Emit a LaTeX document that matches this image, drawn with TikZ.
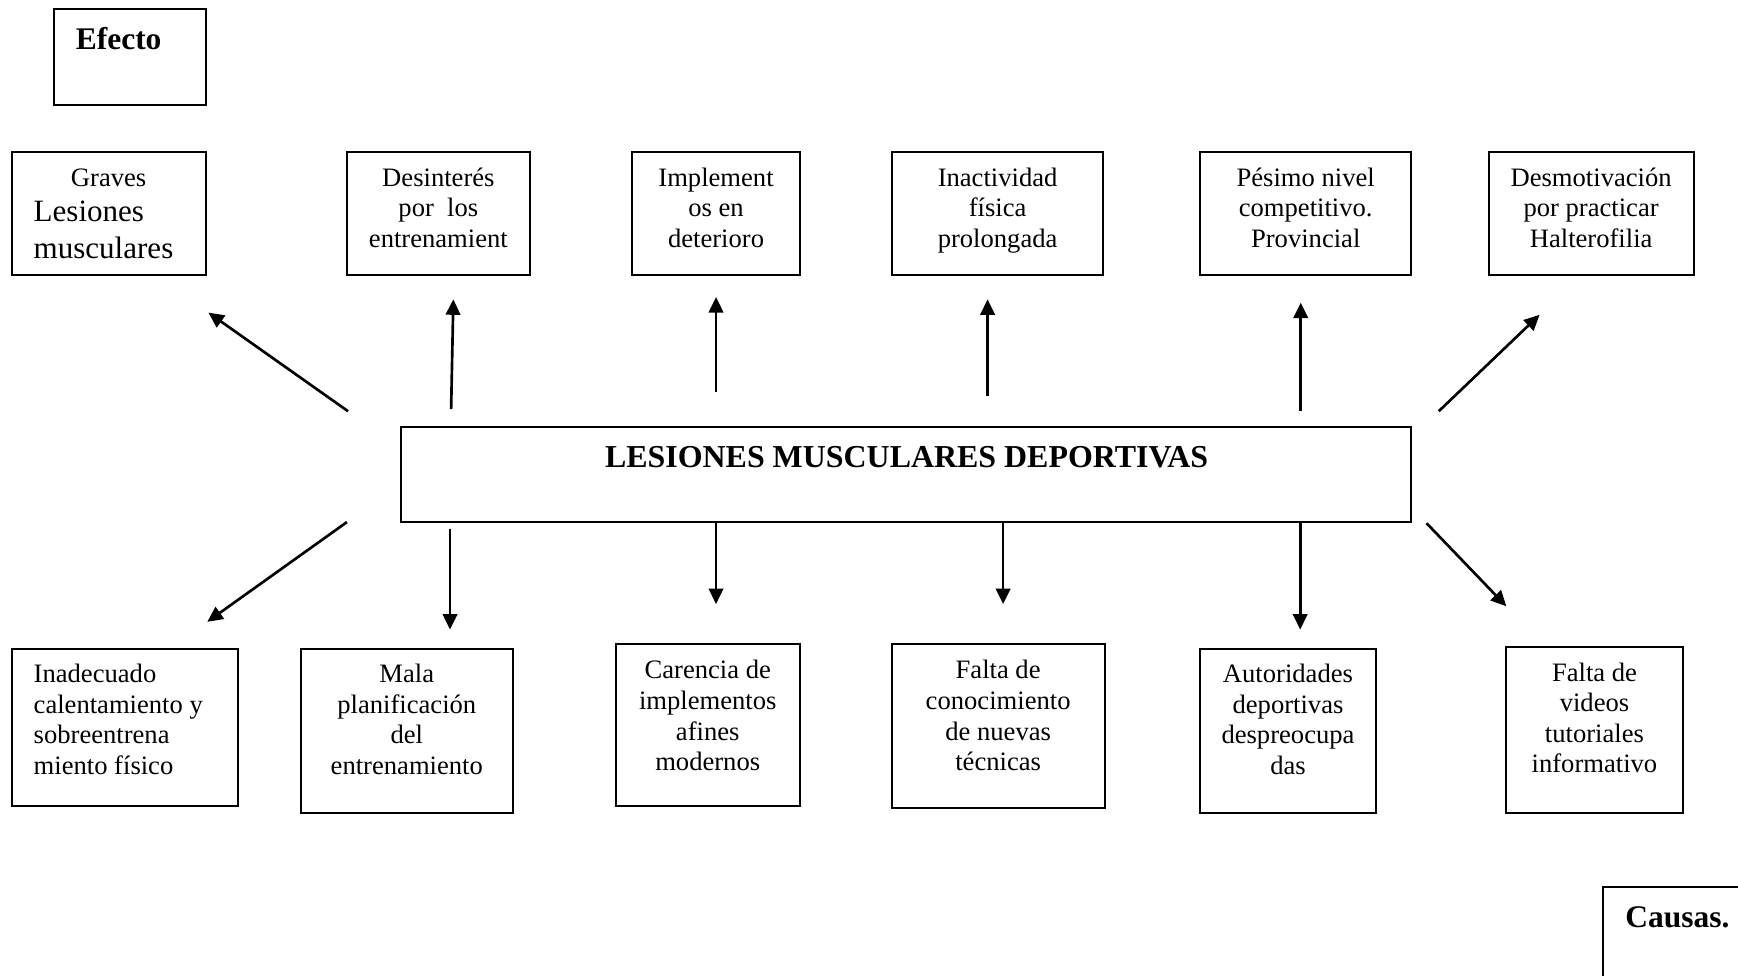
\documentclass[tikz,border=0pt]{standalone}
\usepackage{fontspec}
\setmainfont{Liberation Serif}
\usetikzlibrary{fit,arrows.meta}
\begin{document}
\begin{tikzpicture}[x=0.5pt,y=-0.5pt,
  box/.style={draw,line width=0.9pt,inner sep=0pt},
  txt/.style={inner sep=0pt,font=\fontsize{12}{13.8}\selectfont,align=center,anchor=base},
  txtl/.style={inner sep=0pt,font=\fontsize{12}{13.8}\selectfont,align=left,anchor=base west},
  big/.style={inner sep=0pt,font=\fontsize{14}{16.5}\selectfont,align=left,anchor=base west},
  ttl/.style={inner sep=0pt,font=\fontsize{14.2}{16.5}\selectfont\bfseries,anchor=base west},
  arr/.style={line width=1.2pt,-{Triangle[length=7pt,width=6.5pt]}}]
\useasboundingbox (0,0) rectangle (1568,880.5);

% labels
\node[box,fit={(49,8) (186,95)}] (efb) {};
\node[ttl] (eft) at (68,45) {Efecto};
\node[box,fit={(1446,800) (1640,940)}] (cab) {};
\node[ttl] (cat) at (1466,837) {Causas.};

% central
\node[box,fit={(362,385) (1273,471)}] (c) {};
\node[inner sep=0pt,font=\fontsize{14.4}{16.5}\selectfont\bfseries,anchor=base] (ct) at (818,422) {LESIONES MUSCULARES DEPORTIVAS};

% top row (base anchor = baseline of last line)
\node[box,fit={(11,137) (186,248)}] (t1) {};
\node[txt] (t1a) at (98,168) {Graves};
\node[big] (t1b) at (30,233) {Lesiones\\musculares};
\node[box,fit={(313,137) (478,248)}] (t2) {};
\node[txt] (t2t) at (395.5,223.2) {Desinterés\\por~~los\\entrenamient};
\node[box,fit={(570,137) (722,248)}] (t3) {};
\node[txt] (t3t) at (646,223.2) {Implement\\os en\\deterioro};
\node[box,fit={(805,137) (995,248)}] (t4) {};
\node[txt] (t4t) at (900,223.2) {Inactividad\\física\\prolongada};
\node[box,fit={(1083,137) (1273,248)}] (t5) {};
\node[txt] (t5t) at (1178,223.2) {Pésimo nivel\\competitivo.\\Provincial};
\node[box,fit={(1343,137) (1528,248)}] (t6) {};
\node[txt] (t6t) at (1435.5,223.2) {Desmotivación\\por practicar\\Halterofilia};

% bottom row
\node[box,fit={(11,585.5) (215,727)}] (b1) {};
\node[txtl] (b1t) at (30,698.8) {Inadecuado\\calentamiento y\\sobreentrena\\miento físico};
\node[box,fit={(272,585.5) (463,733.5)}] (b2) {};
\node[txt] (b2t) at (367,698.8) {Mala\\planificación\\del\\entrenamiento};
\node[box,fit={(555.5,581) (722,727.5)}] (b3) {};
\node[txt] (b3t) at (638.5,695.3) {Carencia de\\implementos\\afines\\modernos};
\node[box,fit={(804.5,581) (997,729)}] (b4) {};
\node[txt] (b4t) at (900.5,695.3) {Falta de\\conocimiento\\de nuevas\\técnicas};
\node[box,fit={(1083,585.5) (1241,733.5)}] (b5) {};
\node[txt] (b5t) at (1162,698.8) {Autoridades\\deportivas\\despreocupa\\das};
\node[box,fit={(1359,583.5) (1518,733.5)}] (b6) {};
\node[txt] (b6t) at (1438.5,697.3) {Falta de\\videos\\tutoriales\\informativo};

% arrow end points
\coordinate (u1s) at (314,371);  \coordinate (u1e) at (188,282);
\coordinate (u2s) at (407,369);  \coordinate (u2e) at (409,270);
\coordinate (u3s) at (646,354);  \coordinate (u3e) at (646,268);
\coordinate (u4s) at (891,357);  \coordinate (u4e) at (891,270);
\coordinate (u5s) at (1173.5,371); \coordinate (u5e) at (1173.5,273);
\coordinate (u6s) at (1298,371); \coordinate (u6e) at (1389,284);
\coordinate (d1s) at (313,471);  \coordinate (d1e) at (187,561);
\coordinate (d2s) at (406,477);  \coordinate (d2e) at (406,568);
\coordinate (d3s) at (646,471);  \coordinate (d3e) at (646,545);
\coordinate (d4s) at (905,471);  \coordinate (d4e) at (905,545);
\coordinate (d5s) at (1173,471); \coordinate (d5e) at (1173,568);
\coordinate (d6s) at (1287,472); \coordinate (d6e) at (1359,547);

\foreach \a in {u1,u2,u3,u4,u5,u6,d1,d2,d3,d4,d5,d6}
  \draw[arr] (\a s) -- (\a e);
\end{tikzpicture}
\end{document}
